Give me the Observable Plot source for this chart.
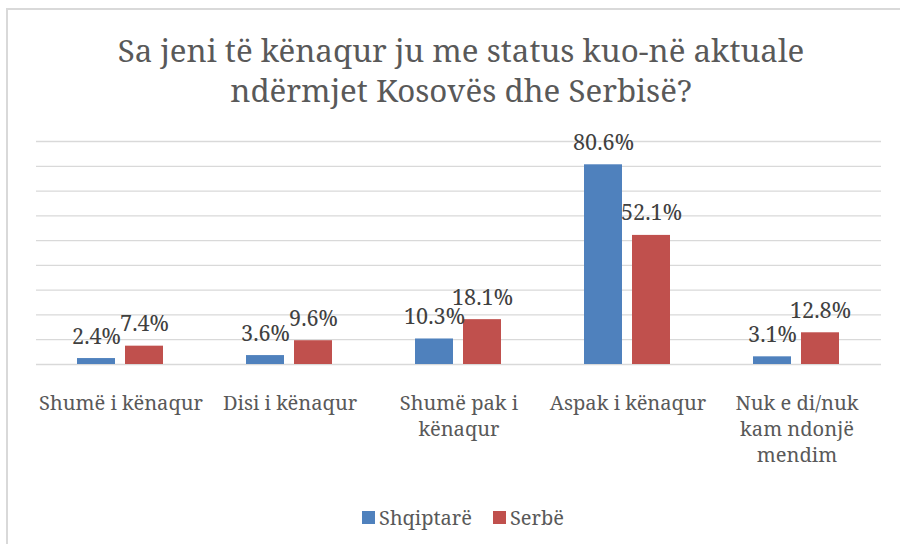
<!DOCTYPE html>
<html>
<head>
<meta charset="utf-8">
<script src="https://cdn.jsdelivr.net/npm/d3@7"></script>
<script src="https://cdn.jsdelivr.net/npm/@observablehq/plot@0.6"></script>
<style>
  html, body { margin: 0; padding: 0; background: #fff; overflow: hidden; }
  #wrap { position: relative; width: 900px; height: 544px; overflow: hidden; }
  #frame { position: absolute; left: 6px; top: 8px; width: 1000px; height: 1000px; border-left: 2px solid #d9d9d9; border-top: 2px solid #d9d9d9; box-sizing: border-box; }
  #title { position: absolute; left: 0; width: 922px; text-align: center; line-height: 40px; color: #595959; white-space: nowrap; }
  #chart { position: absolute; left: 0; top: 0; }
  #legend { position: absolute; left: 362px; display: flex; align-items: center; color: #595959; white-space: nowrap; }
  .sw { display: inline-block; width: 13px; height: 13px; margin-right: 4px; }
  .item { display: flex; align-items: center; margin-right: 21px; }
</style>
</head>
<body>
<div id="wrap">
  <div id="frame"></div>
  <div id="title"></div>
  <div id="chart"></div>
  <div id="legend"></div>
</div>
<script>
const titleLines = ["Sa jeni të kënaqur ju me status kuo-në aktuale", "ndërmjet Kosovës dhe Serbisë?"];
const categories = ["Shumë i kënaqur", "Disi i kënaqur", "Shumë pak i kënaqur", "Aspak i kënaqur", "Nuk e di/nuk kam ndonjë mendim"];
const categoryLabels = ["Shumë i kënaqur", "Disi i kënaqur", "Shumë pak i\nkënaqur", "Aspak i kënaqur", "Nuk e di/nuk\nkam ndonjë\nmendim"];
const series = ["Shqiptarë", "Serbë"];
const colors = ["#4F81BD", "#C0504D"];
const shqiptare = [2.4, 3.6, 10.3, 80.6, 3.1];
const serbe = [7.4, 9.6, 18.1, 52.1, 12.8];
const yTicks = [0, 10, 20, 30, 40, 50, 60, 70, 80, 90];

const FONT = "'Noto Serif', 'Liberation Serif', serif";
const ctx = document.createElement("canvas").getContext("2d");
function fit(text, target) {
  ctx.font = "100px " + FONT;
  return 100 * target / ctx.measureText(text).width;
}
function metrics(size) {
  ctx.font = size + "px " + FONT;
  const m = ctx.measureText("Hg");
  return {asc: m.fontBoundingBoxAscent, desc: m.fontBoundingBoxDescent};
}
const titleSize = fit(titleLines[0], 687);
const labelSize = fit("Shumë i kënaqur", 164);
const valueSize = fit("80.6%", 61);
const legendSize = fit("Shqiptarë", 93);

// title
const t = document.getElementById("title");
t.style.fontFamily = FONT;
t.style.fontSize = titleSize + "px";
t.innerHTML = titleLines.join("<br>");
const tm = metrics(titleSize);
t.style.top = (62 - ((40 - tm.asc - tm.desc) / 2 + tm.asc)) + "px";

const data = [];
categories.forEach((c, i) => {
  data.push({category: c, series: series[0], value: shqiptare[i]});
  data.push({category: c, series: series[1], value: serbe[i]});
});

const chart = Plot.plot({
  width: 900,
  height: 480,
  marginTop: 141,
  marginBottom: 116,
  marginLeft: 35,
  marginRight: 18,
  style: {fontFamily: FONT, fontSize: labelSize + "px", color: "#595959", background: "transparent", overflow: "visible"},
  fx: {domain: categories, padding: 0, label: null},
  x: {domain: series, paddingInner: 0.204, paddingOuter: 0.83, axis: null},
  y: {domain: [0, 90], axis: null},
  color: {domain: series, range: colors},
  marks: [
    Plot.ruleY(yTicks, {stroke: "#d9d9d9", strokeWidth: 1.3}),
    Plot.barY(data, {fx: "category", x: "series", y: "value", fill: "series"}),
    Plot.text(data, {fx: "category", x: "series", y: "value", text: d => d.value.toFixed(1) + "%", lineAnchor: "bottom", dy: -15, fill: "#404040", fontSize: valueSize}),
    Plot.axisFx({anchor: "bottom", tickSize: 0, tickPadding: 41 - 0.71 * labelSize, tickFormat: d => categoryLabels[categories.indexOf(d)], lineHeight: 26 / labelSize, fontSize: labelSize, fill: "#595959", label: null})
  ]
});
document.getElementById("chart").appendChild(chart);

const legend = document.getElementById("legend");
legend.style.fontFamily = FONT;
legend.style.fontSize = legendSize + "px";
const lm = metrics(legendSize);
legend.style.lineHeight = (lm.asc + lm.desc) + "px";
legend.style.top = (525 - lm.asc) + "px";
series.forEach((s, i) => {
  const item = document.createElement("div");
  item.className = "item";
  const sw = document.createElement("span");
  sw.className = "sw";
  sw.style.background = colors[i];
  item.appendChild(sw);
  item.appendChild(document.createTextNode(s));
  legend.appendChild(item);
});
</script>
</body>
</html>
